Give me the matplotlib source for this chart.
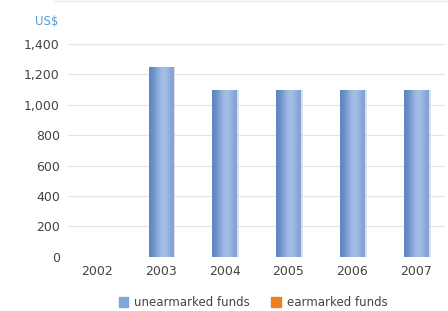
import matplotlib.pyplot as plt
import numpy as np
from matplotlib.patches import Patch

years = ["2002", "2003", "2004", "2005", "2006", "2007"]
unearmarked = [0, 1250, 1100, 1100, 1100, 1100]
earmarked = [0, 0, 0, 0, 0, 0]
y_ticks = [0, 200, 400, 600, 800, 1000, 1200, 1400]

fig = plt.figure(figsize=(4.48, 3.11), dpi=100)
ax = fig.add_axes([0.152, 0.174, 0.841, 0.685])

x = np.arange(len(years))
width = 0.38

# faint shadow behind bars
ax.bar(x + 0.04, unearmarked, width, color="#c9cdd3", alpha=0.6, zorder=2)
bars = ax.bar(x, unearmarked, width, color="#86a9dc", zorder=3)

# horizontal gradient to mimic the 3D cylinder look
grad = np.array([[0.0, 0.35, 0.75, 1.0, 0.8, 0.45]])
cmap = plt.matplotlib.colors.LinearSegmentedColormap.from_list(
    "bar", ["#5f86c0", "#a8c3ea"])
for b in bars:
    if b.get_height() <= 0:
        continue
    x0, w, h = b.get_x(), b.get_width(), b.get_height()
    im = ax.imshow(grad, cmap=cmap, aspect="auto", extent=[x0, x0 + w, 0, h],
                   zorder=4, interpolation="bicubic")
    im.set_clip_path(b)

ax.set_xlim(-0.45, 5.45)
ax.set_ylim(0, 1400)
ax.set_yticks(y_ticks)
ax.set_yticklabels([f"{v:,}" for v in y_ticks])
ax.set_xticks(x)
ax.set_xticklabels(years)
ax.grid(axis="y", color="#e3e3e3", linewidth=0.8, zorder=0)
ax.set_axisbelow(True)
for s in ax.spines.values():
    s.set_visible(False)
ax.tick_params(length=0, labelsize=9, colors="#444444")
ax.tick_params(axis="y", pad=6)
ax.tick_params(axis="x", pad=6)

fig.text(0.105, 0.932, "US$", color="#5b9bd5", fontsize=8.5, ha="center", va="center")
fig.add_artist(plt.Line2D([0.12, 1.0], [0.998, 0.998], color="#e4eef8", lw=1))

handles = [Patch(color="#7ea6da", label="unearmarked funds"),
           Patch(color="#f07f22", label="earmarked funds")]
fig.legend(handles=handles, loc="center", bbox_to_anchor=(0.565, 0.027), ncol=2,
           frameon=False, fontsize=8.5, handlelength=0.8, handleheight=0.8,
           columnspacing=1.8, handletextpad=0.5, labelcolor="#444444",
           borderaxespad=0, borderpad=0)

fig.savefig("out.png", dpi=100)
